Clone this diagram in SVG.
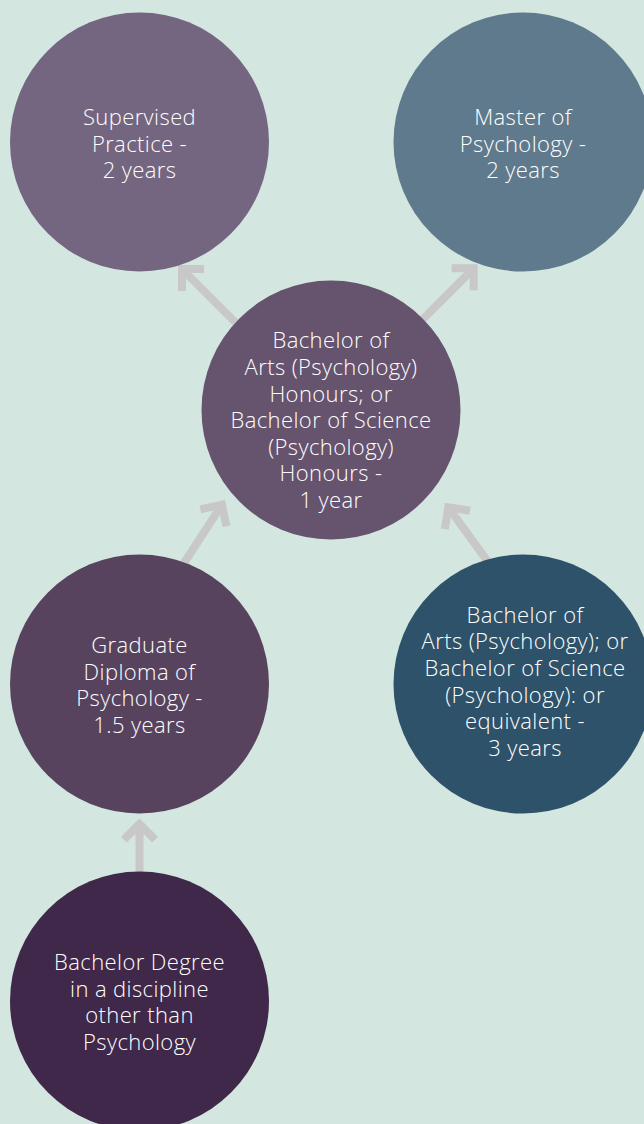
<svg xmlns="http://www.w3.org/2000/svg" width="644" height="1124" viewBox="0 0 644 1124">
<defs>
<style>
.bg{fill:#d3e6df}
.t{font-family:"Open Sans","Lato","Liberation Sans",sans-serif;font-size:22px;font-weight:300;letter-spacing:0.4px;fill:#ffffff;text-anchor:middle}
.c{fill:none;stroke:#c8c8c8;stroke-width:8}
</style>
<marker id="ah" markerUnits="userSpaceOnUse" orient="auto" refX="0" refY="0" markerWidth="50" markerHeight="50" viewBox="-25 -25 50 50" overflow="visible">
<path d="M-15.6,-15.6 L0,0 L-15.6,15.6" fill="none" stroke="#c8c8c8" stroke-width="8" stroke-linejoin="miter"/>
</marker>
</defs>
<rect class="bg" x="0" y="0" width="644" height="1124"/>
<g id="connectors">
<line class="c" x1="242" y1="329" x2="182" y2="269" marker-end="url(#ah)"/>
<line class="c" x1="414" y1="328" x2="473.7" y2="268.3" marker-end="url(#ah)"/>
<line class="c" x1="178.4" y1="571.8" x2="221.9" y2="504.7" marker-end="url(#ah)"/>
<line class="c" x1="495.3" y1="571.9" x2="448.3" y2="507.3" marker-end="url(#ah)"/>
<line class="c" x1="139.5" y1="890" x2="139.5" y2="824" marker-end="url(#ah)"/>
</g>
<g id="supervised">
<circle cx="139.5" cy="142" r="129.5" fill="#746580"/>
<text class="t" x="139.5" y="125">Supervised</text>
<text class="t" x="139.5" y="151.5">Practice -</text>
<text class="t" x="139.5" y="178">2 years</text>
</g>
<g id="master">
<circle cx="523" cy="142" r="129.5" fill="#5e7a8c"/>
<text class="t" x="523" y="125">Master of</text>
<text class="t" x="523" y="151.5">Psychology -</text>
<text class="t" x="523" y="178">2 years</text>
</g>
<g id="honours">
<circle cx="331" cy="410" r="129.5" fill="#66536e"/>
<text class="t" x="331" y="348.3">Bachelor of</text>
<text class="t" x="331" y="375">Arts (Psychology)</text>
<text class="t" x="331" y="401.6">Honours; or</text>
<text class="t" x="331" y="428.2">Bachelor of Science</text>
<text class="t" x="331" y="454.8">(Psychology)</text>
<text class="t" x="331" y="481.4">Honours -</text>
<text class="t" x="331" y="508">1 year</text>
</g>
<g id="graduate">
<circle cx="139.5" cy="684" r="129.5" fill="#58435f"/>
<text class="t" x="139.5" y="653.3">Graduate</text>
<text class="t" x="139.5" y="679.8">Diploma of</text>
<text class="t" x="139.5" y="706.3">Psychology -</text>
<text class="t" x="139.5" y="732.8">1.5 years</text>
</g>
<g id="bachelor-psych">
<circle cx="523" cy="684" r="129.5" fill="#2e5269"/>
<text class="t" x="525" y="622.7">Bachelor of</text>
<text class="t" x="525" y="649.3">Arts (Psychology); or</text>
<text class="t" x="525" y="676">Bachelor of Science</text>
<text class="t" x="525" y="702.6">(Psychology): or</text>
<text class="t" x="525" y="729.2">equivalent -</text>
<text class="t" x="525" y="755.8">3 years</text>
</g>
<g id="bachelor-other">
<circle cx="139.5" cy="1001" r="129.5" fill="#3f2849"/>
<text class="t" x="139.5" y="970">Bachelor Degree</text>
<text class="t" x="139.5" y="996.5">in a discipline</text>
<text class="t" x="139.5" y="1023">other than</text>
<text class="t" x="139.5" y="1049.5">Psychology</text>
</g>
</svg>
